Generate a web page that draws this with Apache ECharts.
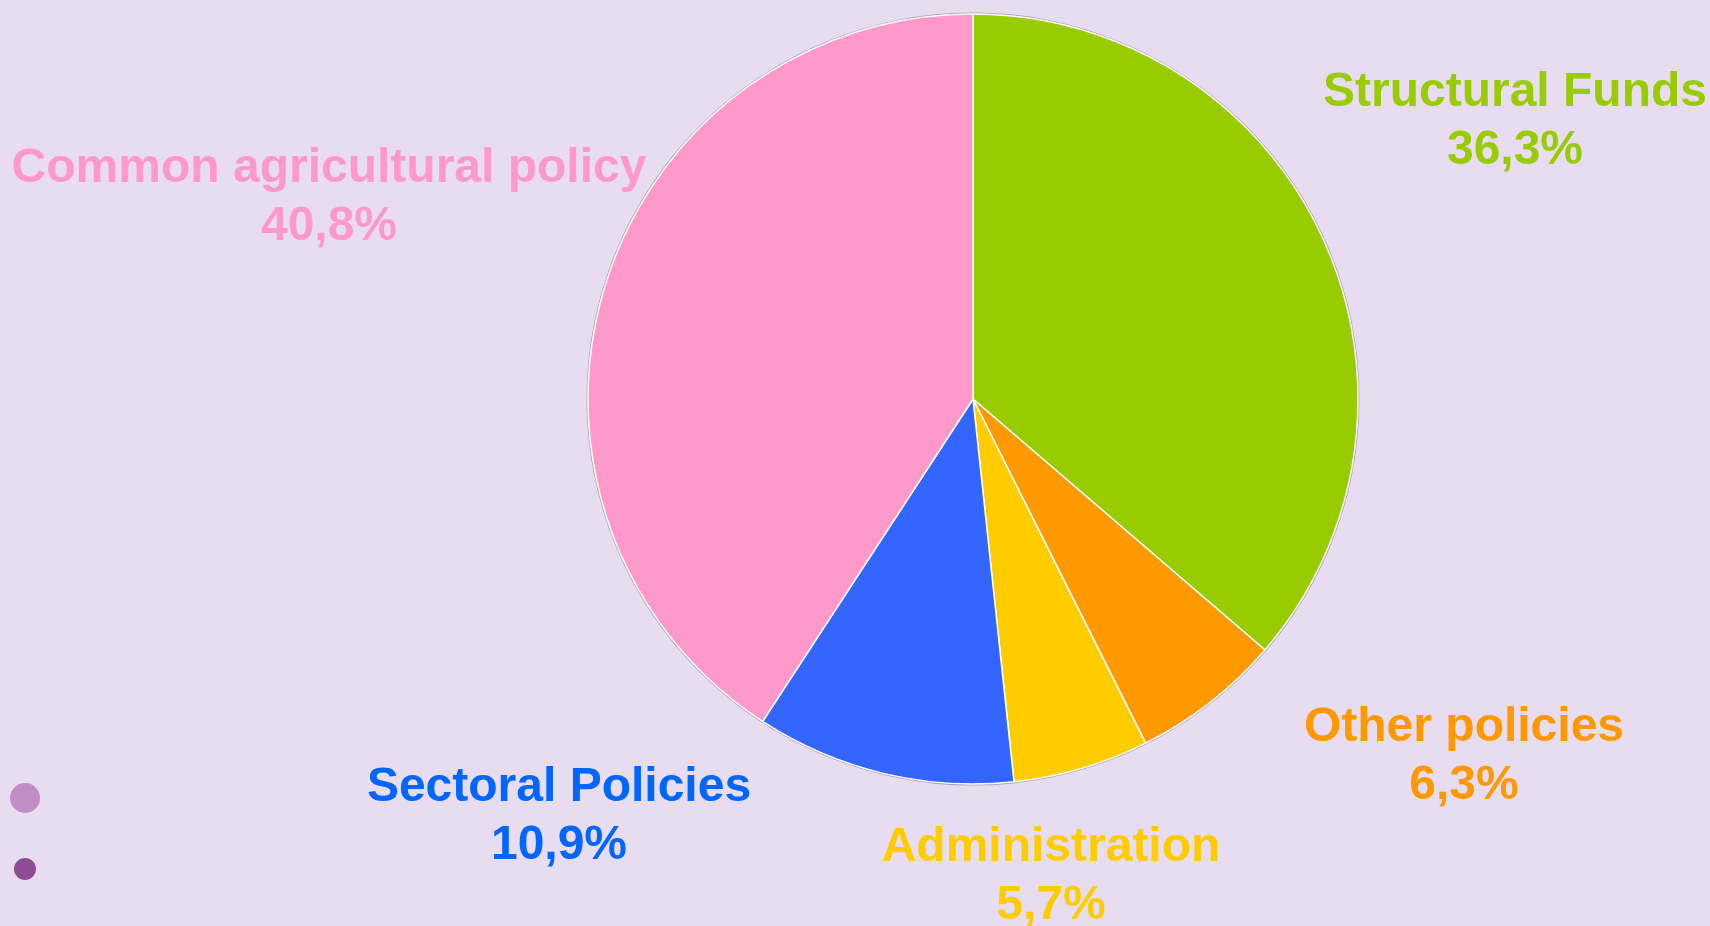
<!DOCTYPE html>
<html>
<head>
<meta charset="utf-8">
<script src="https://cdn.jsdelivr.net/npm/echarts@6/dist/echarts.min.js"></script>
<style>
  html, body { margin: 0; padding: 0; background: #e8ddf0; }
  #chart { width: 1710px; height: 926px; }
</style>
</head>
<body>
<div id="chart"></div>
<script>
// budget shares, clockwise from 12 o'clock
var names = ['Structural Funds', 'Other policies', 'Administration', 'Sectoral Policies', 'Common agricultural policy'];
var shares = [36.3, 6.3, 5.7, 10.9, 40.8];
var sliceColors = ['#99cc00', '#ff9900', '#ffcc00', '#3366ff', '#ff99cc'];
var labelColors = ['#99cc00', '#ff9900', '#ffcc00', '#0066ff', '#ff99cc'];
// label block centres (px)
var labelPos = [[1515, 122], [1464, 757], [1051, 877], [559, 817], [329, 198]];

var myChart = echarts.init(document.getElementById('chart'));

var pieData = names.map(function(n, i) {
    return {
        name: n,
        value: shares[i],
        itemStyle: { color: sliceColors[i] },
        label: { color: labelColors[i] }
    };
});

var option = {
    backgroundColor: '#e8ddf0',
    animation: false,
    graphic: [
        { type: 'circle', shape: { cx: 25, cy: 798, r: 15 }, style: { fill: '#c18dc5' } },
        { type: 'circle', shape: { cx: 25, cy: 869, r: 11 }, style: { fill: '#8e4c97' } }
    ],
    series: [{
        // thin grey rim behind the pie
        type: 'pie',
        silent: true,
        center: [973, 399],
        radius: 386.5,
        label: { show: false },
        labelLine: { show: false },
        itemStyle: { color: '#a9a1b0' },
        data: [1]
    }, {
        type: 'pie',
        center: [973, 399],
        radius: 385,
        startAngle: 90,
        clockwise: true,
        avoidLabelOverlap: false,
        itemStyle: {
            borderColor: '#ffffff',
            borderWidth: 1.5
        },
        label: {
            show: true,
            position: 'outside',
            fontFamily: '"Liberation Sans", Arial, sans-serif',
            fontWeight: 'bold',
            fontSize: 48,
            lineHeight: 58,
            align: 'center',
            formatter: function(params) {
                return params.name + '\n' + params.value.toFixed(1).replace('.', ',') + '%';
            }
        },
        labelLine: { show: false },
        labelLayout: function(params) {
            var p = labelPos[params.dataIndex];
            return { x: p[0], y: p[1], align: 'center', verticalAlign: 'middle' };
        },
        data: pieData
    }]
};

myChart.setOption(option);
</script>
</body>
</html>
